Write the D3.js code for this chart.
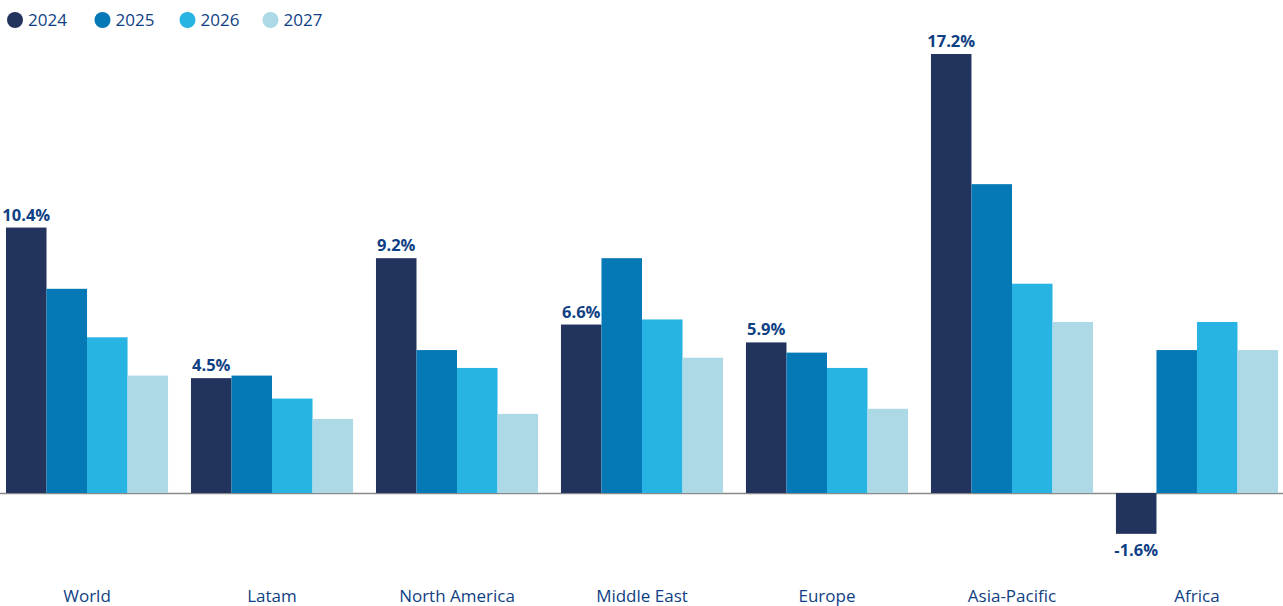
<!DOCTYPE html>
<html>
<head>
<meta charset="utf-8">
<script src="https://cdn.jsdelivr.net/npm/d3@7"></script>
<style>
  body { margin: 0; background: #fff; }
  text { font-family: "Open Sans", Lato, sans-serif; }
</style>
</head>
<body>
<svg width="1283" height="606"></svg>
<script>
// chart values
var regions = ["World", "Latam", "North America", "Middle East", "Europe", "Asia-Pacific", "Africa"];
var years = ["2024", "2025", "2026", "2027"];
var v2024 = [10.4, 4.5, 9.2, 6.6, 5.9, 17.2, -1.6];
var v2025 = [8.0, 4.6, 5.6, 9.2, 5.5, 12.1, 5.6];
var v2026 = [6.1, 3.7, 4.9, 6.8, 4.9, 8.2, 6.7];
var v2027 = [4.6, 2.9, 3.1, 5.3, 3.3, 6.7, 5.6];
var colors = ["#22335e", "#0479b5", "#27b4e2", "#add8e6"];

var series = [v2024, v2025, v2026, v2027];
var data = regions.map(function(r, i) {
  return {region: r, vals: series.map(function(s, j) { return {year: years[j], v: s[i]}; })};
});

var svg = d3.select("svg");
var textColor = "#0f3f84";

var x0 = d3.scaleBand().domain(regions).range([6, 1278]).paddingInner(0.124).paddingOuter(0);
var x1 = d3.scaleBand().domain(years).range([0, x0.bandwidth()]).padding(0);
var y = d3.scaleLinear().domain([0, 17.2]).range([493, 54]);
var z = d3.scaleOrdinal().domain(years).range(colors);

// baseline
svg.append("line")
    .attr("x1", 0).attr("x2", 1283)
    .attr("y1", y(0) + 0.5).attr("y2", y(0) + 0.5)
    .attr("stroke", "#8a8a8a").attr("stroke-width", 1.5);

var group = svg.selectAll(".grp")
  .data(data)
  .enter().append("g")
    .attr("class", "grp")
    .attr("transform", function(d) { return "translate(" + x0(d.region) + ",0)"; });

group.selectAll("rect")
  .data(function(d) { return d.vals; })
  .enter().append("rect")
    .attr("x", function(d) { return x1(d.year); })
    .attr("width", x1.bandwidth())
    .attr("y", function(d) { return y(Math.max(0, d.v)); })
    .attr("height", function(d) { return Math.abs(y(d.v) - y(0)); })
    .attr("fill", function(d) { return z(d.year); });

// labels only on 2024 bars
group.append("text")
    .attr("x", x1("2024") + x1.bandwidth() / 2)
    .attr("y", function(d) {
      var v = d.vals[0].v;
      return v >= 0 ? y(v) - 7 : y(v) + 22;
    })
    .attr("text-anchor", "middle")
    .attr("fill", textColor)
    .style("font-size", "16.5px")
    .style("font-weight", "bold")
    .text(function(d) { return d.vals[0].v.toFixed(1) + "%"; });

// category labels
svg.append("g").selectAll("text")
  .data(regions)
  .enter().append("text")
    .attr("x", function(d) { return x0(d) + x0.bandwidth() / 2; })
    .attr("y", 602)
    .attr("text-anchor", "middle")
    .attr("fill", textColor)
    .style("font-size", "17px")
    .text(function(d) { return d; });

// legend
var legX = [15, 102.5, 187.5, 270.5];
var leg = svg.append("g").selectAll("g")
  .data(years)
  .enter().append("g")
    .attr("transform", function(d, i) { return "translate(" + legX[i] + ",20)"; });
leg.append("circle").attr("r", 8).attr("fill", function(d) { return z(d); });
leg.append("text")
    .attr("x", 13).attr("y", 6)
    .attr("fill", textColor)
    .style("font-size", "17px")
    .text(function(d) { return d; });
</script>
</body>
</html>
